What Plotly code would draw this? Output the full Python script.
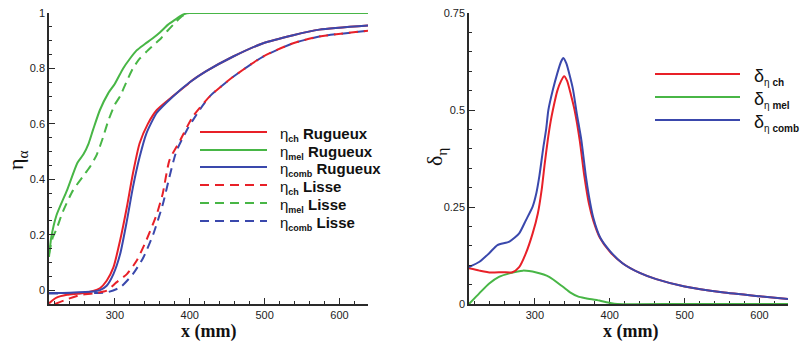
import plotly.graph_objects as go

# ---------------- Data ----------------
# Left panel: eta_alpha vs x (mm)
x_ch_rug = [212, 216, 222, 236, 253, 271, 280, 289, 298, 307, 316, 324, 333, 344, 356, 373, 396, 400, 422, 458, 498, 538, 573, 638]
y_ch_rug = [-0.048, -0.038, -0.027, -0.017, -0.012, -0.003, 0.007, 0.034, 0.082, 0.18, 0.30, 0.42, 0.53, 0.60, 0.65, 0.69, 0.74, 0.75, 0.79, 0.843, 0.891, 0.92, 0.94, 0.955]

x_mel_rug = [212, 215, 222, 236, 250, 258, 265, 271, 280, 291, 300, 311, 320, 329, 340, 351, 360, 371, 380, 390, 396, 400, 500, 638]
y_mel_rug = [0.12, 0.19, 0.27, 0.36, 0.46, 0.49, 0.53, 0.58, 0.65, 0.71, 0.745, 0.80, 0.835, 0.865, 0.888, 0.91, 0.93, 0.958, 0.975, 0.993, 0.999, 1.0, 1.0, 1.0]

x_comb_rug = [212, 240, 271, 280, 289, 298, 307, 316, 324, 333, 342, 356, 378, 400, 422, 458, 498, 538, 573, 638]
y_comb_rug = [-0.010, -0.009, -0.005, 0.0, 0.016, 0.058, 0.13, 0.25, 0.37, 0.48, 0.565, 0.64, 0.70, 0.75, 0.79, 0.843, 0.891, 0.92, 0.94, 0.955]

x_ch_lis = [220, 236, 253, 271, 289, 302, 316, 329, 342, 356, 364, 373, 387, 404, 427, 458, 498, 538, 573, 638]
y_ch_lis = [-0.05, -0.033, -0.018, -0.012, -0.002, 0.028, 0.058, 0.106, 0.18, 0.275, 0.35, 0.47, 0.54, 0.626, 0.70, 0.77, 0.843, 0.891, 0.915, 0.936]

x_mel_lis = [212, 217, 222, 230, 244, 260, 268, 276, 284, 291, 300, 307, 316, 324, 333, 342, 352, 362, 370, 378, 388, 396, 400, 500, 638]
y_mel_lis = [0.13, 0.19, 0.22, 0.28, 0.36, 0.42, 0.45, 0.49, 0.55, 0.61, 0.67, 0.70, 0.755, 0.80, 0.835, 0.86, 0.885, 0.91, 0.935, 0.958, 0.985, 0.998, 1.0, 1.0, 1.0]

x_comb_lis = [212, 250, 289, 307, 324, 338, 351, 364, 373, 382, 396, 413, 427, 458, 498, 538, 573, 638]
y_comb_lis = [-0.012, -0.011, -0.008, 0.01, 0.058, 0.118, 0.20, 0.31, 0.41, 0.50, 0.577, 0.65, 0.70, 0.77, 0.843, 0.891, 0.915, 0.936]

# Right panel: delta_eta vs x (mm)
x_d_ch = [212, 226, 241, 257, 270, 279, 288, 297, 304, 309, 313, 317, 321, 324, 330, 335, 339, 343, 348, 353, 360, 366, 372, 378, 387, 400, 417, 440, 462, 500, 550, 600, 638]
y_d_ch = [0.092, 0.086, 0.081, 0.082, 0.082, 0.095, 0.131, 0.182, 0.234, 0.294, 0.36, 0.42, 0.47, 0.50, 0.55, 0.575, 0.587, 0.575, 0.54, 0.50, 0.42, 0.33, 0.26, 0.215, 0.17, 0.135, 0.105, 0.08, 0.064, 0.045, 0.03, 0.02, 0.013]

x_d_mel = [212, 226, 239, 252, 266, 284, 302, 319, 337, 347, 358, 368, 386, 400, 410, 500, 638]
y_d_mel = [0.0, 0.028, 0.053, 0.070, 0.079, 0.086, 0.081, 0.070, 0.045, 0.030, 0.019, 0.015, 0.009, 0.003, 0.0, 0.0, 0.0]

x_d_comb = [212, 226, 239, 250, 266, 279, 288, 297, 302, 306, 311, 315, 318, 324, 330, 335, 338, 342, 347, 351, 356, 362, 368, 372, 378, 387, 400, 417, 440, 462, 500, 550, 600, 638]
y_d_comb = [0.095, 0.109, 0.131, 0.152, 0.161, 0.182, 0.216, 0.251, 0.286, 0.33, 0.40, 0.45, 0.50, 0.552, 0.595, 0.625, 0.634, 0.62, 0.585, 0.552, 0.49, 0.423, 0.33, 0.28, 0.222, 0.172, 0.137, 0.105, 0.08, 0.064, 0.045, 0.03, 0.02, 0.013]

left_subs = ["ch", "mel", "comb", "ch", "mel", "comb"]
left_words = ["Rugueux", "Rugueux", "Rugueux", "Lisse", "Lisse", "Lisse"]
right_subs = ["ch", "mel", "comb"]

RED = "rgb(232,32,40)"
GREEN = "rgb(72,182,70)"
BLUE = "rgb(58,72,172)"
DASH = "9px,6px"

fig = go.Figure()

left_series = [
    (x_ch_rug, y_ch_rug, RED, "solid"),
    (x_mel_rug, y_mel_rug, GREEN, "solid"),
    (x_comb_rug, y_comb_rug, BLUE, "solid"),
    (x_ch_lis, y_ch_lis, RED, DASH),
    (x_mel_lis, y_mel_lis, GREEN, DASH),
    (x_comb_lis, y_comb_lis, BLUE, DASH),
]
# draw order: dashed first, then solids; blue above red
draw_order = [4, 5, 3, 1, 0, 2]
for i in draw_order:
    xs, ys, c, d = left_series[i]
    fig.add_trace(go.Scatter(x=xs, y=ys, mode="lines", line=dict(color=c, width=2, dash=d, shape="spline", smoothing=0.6),
                             xaxis="x", yaxis="y", showlegend=False, hoverinfo="skip"))

right_series = [
    (x_d_mel, y_d_mel, GREEN),
    (x_d_ch, y_d_ch, RED),
    (x_d_comb, y_d_comb, BLUE),
]
for xs, ys, c in right_series:
    fig.add_trace(go.Scatter(x=xs, y=ys, mode="lines", line=dict(color=c, width=2, shape="spline", smoothing=0.6),
                             xaxis="x2", yaxis="y2", showlegend=False, hoverinfo="skip"))

W, H = 805, 342
T, B = 13, 38
PH = H - T - B

def px(X):
    return X / W

def py(Y):
    return (H - B - Y) / PH

axis_common = dict(showline=True, linecolor="#2a2a2a", linewidth=1.5, mirror=False, showgrid=False, zeroline=False,
                   ticks="inside", ticklen=6, tickwidth=1.3, tickcolor="#2a2a2a",
                   tickfont=dict(family="Liberation Sans, Arial, sans-serif", size=11, color="#222"))

fig.update_layout(
    width=W, height=H, margin=dict(l=0, r=0, t=T, b=B),
    paper_bgcolor="white", plot_bgcolor="white",
    xaxis=dict(domain=[px(49), px(368)], range=[212, 638], tickvals=[300, 400, 500, 600], anchor="y",
               minor=dict(ticks="inside", ticklen=3, dtick=20, tick0=200, tickcolor="#2a2a2a", showgrid=False), **axis_common),
    yaxis=dict(domain=[0, 1], range=[-0.05, 1.0], tickvals=[0, 0.2, 0.4, 0.6, 0.8, 1], ticktext=["0", "0.2", "0.4", "0.6", "0.8", "1"],
               anchor="x", minor=dict(ticks="inside", ticklen=3, dtick=0.05, tick0=0, tickcolor="#2a2a2a", showgrid=False), **axis_common),
    xaxis2=dict(domain=[px(469), px(788)], range=[212, 638], tickvals=[300, 400, 500, 600], anchor="y2", layer="below traces",
                minor=dict(ticks="inside", ticklen=3, dtick=20, tick0=200, tickcolor="#2a2a2a", showgrid=False), **axis_common),
    yaxis2=dict(domain=[0, 1], range=[0, 0.75], tickvals=[0, 0.25, 0.5, 0.75], ticktext=["0", "0.25", "0.5", "0.75"],
                anchor="x2", minor=dict(ticks="inside", ticklen=3, dtick=0.05, tick0=0, tickcolor="#2a2a2a", showgrid=False), **axis_common),
)

ann = []
shapes = []
# axis titles
title_font = dict(family="Liberation Serif, Times New Roman, serif", size=18, color="#111")
ann.append(dict(text="<b>x (mm)</b>", x=px(208), y=py(331), xref="paper", yref="paper", showarrow=False,
                xanchor="center", yanchor="middle", font=title_font))
ann.append(dict(text="<b>x (mm)</b>", x=px(630), y=py(331), xref="paper", yref="paper", showarrow=False,
                xanchor="center", yanchor="middle", font=title_font))
ann.append(dict(text="η<sub>α</sub>", x=px(17), y=py(160), xref="paper", yref="paper", showarrow=False, textangle=-90,
                xanchor="center", yanchor="middle", font=dict(family="Liberation Serif, serif", size=22, color="#111")))
ann.append(dict(text="δ<sub>η</sub>", x=px(436), y=py(157), xref="paper", yref="paper", showarrow=False, textangle=-90,
                xanchor="center", yanchor="middle", font=dict(family="Liberation Serif, serif", size=22, color="#111")))

# left legend
left_rows = [132, 150, 167, 185, 203, 221]
for (xs, ys, c, d), sub, word, Y in zip(left_series, left_subs, left_words, left_rows):
    shapes.append(dict(type="line", xref="paper", yref="paper", x0=px(200), x1=px(267), y0=py(Y), y1=py(Y),
                       line=dict(color=c, width=2, dash=d)))
    label = "η<sub><span style='font-size:9px'><b>%s</b></span></sub> <b>%s</b>" % (sub, word)
    ann.append(dict(text=label, x=px(278), y=py(Y + 2), xref="paper", yref="paper", showarrow=False,
                    xanchor="left", yanchor="middle", font=dict(family="Liberation Sans, Arial, sans-serif", size=15, color="#111")))

# right legend
right_rows = [74, 97, 120]
for c, sub, Y in zip([RED, GREEN, BLUE], right_subs, right_rows):
    shapes.append(dict(type="line", xref="paper", yref="paper", x0=px(655), x1=px(740), y0=py(Y), y1=py(Y),
                       line=dict(color=c, width=2)))
    label = "δ<sub><span style='font-size:10px'>η <b>%s</b></span></sub>" % sub
    ann.append(dict(text=label, x=px(752), y=py(Y + 3), xref="paper", yref="paper", showarrow=False,
                    xanchor="left", yanchor="middle", font=dict(family="Liberation Sans, Arial, sans-serif", size=18, color="#111")))

fig.update_layout(annotations=ann, shapes=shapes)
fig.write_html("out.html", config={"displayModeBar": False},
               post_script="document.body.style.margin='0';document.body.style.overflow='hidden';")
